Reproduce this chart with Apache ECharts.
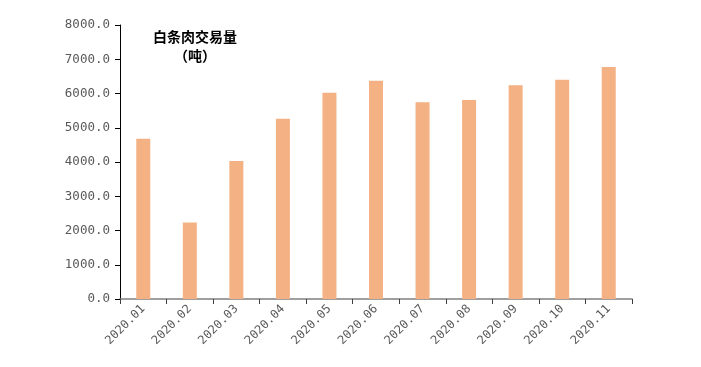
<!DOCTYPE html>
<html>
<head>
<meta charset="utf-8">
<script src="https://cdn.jsdelivr.net/npm/echarts@6/dist/echarts.min.js"></script>
<style>html,body{margin:0;padding:0;background:#fff}#c{width:701px;height:367px}</style>
</head>
<body>
<div id="c"></div>
<script>
const categories = ['2020.01','2020.02','2020.03','2020.04','2020.05','2020.06','2020.07','2020.08','2020.09','2020.10','2020.11'];
const volumes = [4680, 2230, 4030, 5260, 6020, 6370, 5745, 5810, 6240, 6400, 6775];
const titleLines = ['白条肉交易量', '（吨）'];

const chart = echarts.init(document.getElementById('c'));
chart.setOption({
  animation: false,
  backgroundColor: '#fff',
  title: {
    text: titleLines.join('\n'),
    left: 190, top: 22, textAlign: 'center',
    textStyle: { fontFamily: 'Noto Sans CJK SC', fontSize: 14, fontWeight: 'bold', color: '#000', lineHeight: 19 }
  },
  grid: { left: 120, right: 69, top: 25, bottom: 68, containLabel: false },
  xAxis: {
    type: 'category',
    data: categories,
    axisLine: { lineStyle: { color: '#808080', width: 1.5 } },
    axisTick: { show: true, alignWithLabel: false, length: 5, lineStyle: { color: '#404040' } },
    axisLabel: { rotate: 45, color: '#595959', fontFamily: 'DejaVu Sans Mono', fontSize: 12, margin: 8 }
  },
  yAxis: {
    type: 'value',
    min: 0, max: 8000, interval: 1000,
    axisLine: { show: true, lineStyle: { color: '#000', width: 1 } },
    axisTick: { show: true, length: 5, lineStyle: { color: '#000' } },
    splitLine: { show: false },
    axisLabel: { color: '#595959', fontFamily: 'DejaVu Sans Mono', fontSize: 12.5, margin: 10,
      formatter: v => v.toFixed(1) }
  },
  series: [{
    type: 'bar',
    data: volumes,
    barWidth: 14,
    itemStyle: { color: '#F4B183' }
  }]
});
</script>
</body>
</html>
